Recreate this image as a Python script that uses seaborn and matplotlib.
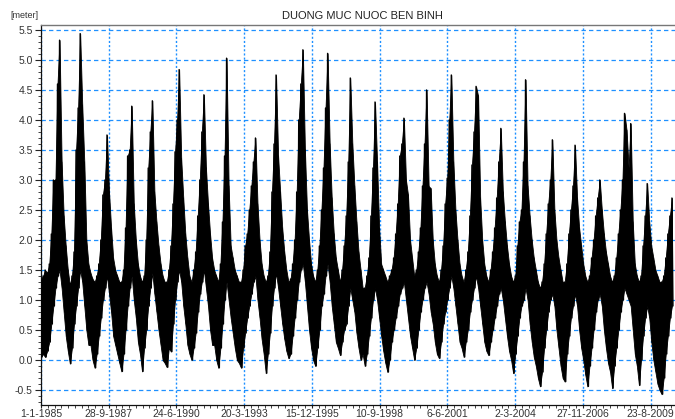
import numpy as np
import pandas as pd
import matplotlib
matplotlib.use("Agg")
import matplotlib.pyplot as plt
import seaborn as sns
from matplotlib.ticker import MultipleLocator, FixedLocator, FixedFormatter

sns.set_theme(style="white")
plt.rcParams["font.family"] = ["Liberation Sans", "DejaVu Sans"]

title = "DUONG MUC NUOC BEN BINH"
unit_label = "[meter]"
x_tick_days = [0, 1000, 2000, 3000, 4000, 5000, 6000, 7000, 8000, 9000]
x_tick_labels = ["1-1-1985", "28-9-1987", "24-6-1990", "20-3-1993", "15-12-1995",
                 "10-9-1998", "6-6-2001", "2-3-2004", "27-11-2006", "23-8-2009"]
y_ticks = [-0.5, 0.0, 0.5, 1.0, 1.5, 2.0, 2.5, 3.0, 3.5, 4.0, 4.5, 5.0, 5.5]

# monthly high-water envelope (m), Jan 1985 .. Jul 2010, one row per year
upper = [
    1.35, 1.40, 1.50, 1.45, 1.60, 2.10, 3.00, 3.00, 4.60, 5.33, 3.30, 2.40,  # 1985
    1.90, 1.50, 1.25, 1.40, 1.80, 3.50, 4.20, 5.44, 4.25, 3.30, 2.00, 1.60,  # 1986
    1.45, 1.35, 1.30, 1.40, 1.60, 2.00, 2.75, 3.00, 3.75, 2.80, 2.20, 1.70,  # 1987
    1.50, 1.40, 1.30, 1.30, 1.50, 2.20, 3.40, 3.50, 4.23, 2.60, 2.00, 1.60,  # 1988
    1.40, 1.30, 1.40, 2.00, 3.20, 3.80, 4.32, 2.80, 2.30, 1.90, 1.60, 1.40,  # 1989
    1.30, 1.30, 1.50, 1.90, 2.60, 3.47, 4.00, 4.84, 3.36, 2.70, 2.10, 1.70,  # 1990
    1.40, 1.30, 1.50, 1.80, 2.40, 3.00, 3.80, 4.42, 3.20, 2.60, 2.10, 1.70,  # 1991
    1.50, 1.40, 1.30, 1.60, 2.30, 3.40, 5.03, 2.90, 1.90, 1.70, 1.50, 1.40,  # 1992
    1.30, 1.30, 1.50, 1.90, 2.10, 2.50, 2.90, 3.30, 3.70, 2.60, 2.00, 1.60,  # 1993
    1.40, 1.30, 1.40, 1.80, 2.80, 3.60, 4.75, 3.40, 2.80, 2.20, 1.80, 1.50,  # 1994
    1.30, 1.35, 1.60, 2.00, 2.80, 4.00, 4.60, 5.17, 3.50, 2.50, 2.00, 1.60,  # 1995
    1.40, 1.30, 1.50, 1.90, 2.50, 3.20, 4.20, 5.11, 3.60, 2.70, 2.10, 1.70,  # 1996
    1.50, 1.30, 1.50, 1.90, 2.40, 3.30, 4.70, 3.60, 2.90, 2.30, 1.80, 1.50,  # 1997
    1.20, 1.20, 1.40, 1.70, 2.40, 3.20, 4.30, 3.30, 2.20, 1.60, 1.50, 1.40,  # 1998
    1.30, 1.40, 1.50, 1.70, 2.10, 2.60, 3.40, 3.60, 4.03, 3.00, 2.75, 2.00,  # 1999
    1.70, 1.40, 1.50, 1.80, 2.20, 2.90, 3.60, 4.50, 2.90, 2.86, 2.00, 1.60,  # 2000
    1.40, 1.30, 1.50, 1.90, 2.60, 3.03, 4.00, 4.75, 3.30, 2.50, 2.00, 1.60,  # 2001
    1.40, 1.30, 1.50, 1.80, 2.40, 3.25, 3.80, 4.56, 4.40, 2.70, 2.00, 1.60,  # 2002
    1.40, 1.30, 1.50, 1.80, 2.20, 2.70, 3.30, 3.86, 2.80, 2.30, 1.90, 1.60,  # 2003
    1.40, 1.30, 1.40, 1.90, 2.30, 2.50, 3.30, 4.67, 2.90, 2.40, 2.00, 1.70,  # 2004
    1.50, 1.30, 1.20, 1.30, 1.60, 2.10, 2.60, 3.00, 3.67, 2.50, 2.00, 1.70,  # 2005
    1.50, 1.30, 1.30, 1.60, 2.10, 2.50, 2.90, 3.58, 2.70, 2.20, 1.90, 1.60,  # 2006
    1.40, 1.30, 1.40, 1.70, 2.00, 2.40, 2.70, 3.00, 2.50, 2.10, 1.80, 1.60,  # 2007
    1.40, 1.30, 1.40, 1.70, 2.10, 2.50, 3.00, 4.11, 3.83, 3.20, 3.94, 2.30,  # 2008
    1.60, 1.40, 1.30, 1.40, 1.90, 2.40, 2.94, 2.30, 1.90, 1.70, 1.50, 1.40,  # 2009
    1.30, 1.30, 1.40, 1.70, 2.10, 2.40, 2.70,                                # 2010
]

# monthly low-water envelope (m), same months
lower = [
    0.05, 0.10, 0.05, 0.15, 0.30, 0.60, 0.90, 1.20, 1.40, 1.50, 1.20, 0.80,  # 1985
    0.40, 0.15, -0.06, 0.20, 0.60, 0.90, 1.20, 1.50, 1.30, 0.90, 0.50, 0.25,  # 1986
    0.25, 0.00, -0.13, 0.10, 0.40, 0.70, 1.00, 1.20, 1.40, 1.10, 0.80, 0.40,  # 1987
    0.25, 0.10, -0.05, -0.19, 0.10, 0.50, 0.90, 1.20, 1.40, 1.00, 0.70, 0.30,  # 1988
    0.10, -0.19, 0.20, 0.50, 0.90, 1.20, 1.45, 1.10, 0.80, 0.50, 0.25, 0.00,  # 1989
    -0.05, -0.12, 0.20, 0.14, 0.60, 1.00, 1.30, 1.50, 1.30, 0.90, 0.60, 0.25,  # 1990
    0.10, 0.00, 0.20, 0.45, 0.80, 1.10, 1.30, 1.50, 1.20, 0.90, 0.50, 0.25,  # 1991
    0.25, 0.00, -0.13, 0.20, 0.60, 1.00, 1.30, 1.00, 0.70, 0.45, 0.20, 0.00,  # 1992
    -0.05, -0.13, 0.20, 0.45, 0.70, 0.90, 1.10, 1.30, 1.40, 1.00, 0.70, 0.35,  # 1993
    0.10, -0.22, 0.10, 0.45, 0.90, 1.20, 1.45, 1.20, 0.90, 0.60, 0.35, 0.15,  # 1994
    0.03, 0.10, 0.40, 0.70, 1.00, 1.30, 1.50, 1.60, 1.30, 0.90, 0.50, 0.20,  # 1995
    0.00, -0.10, 0.20, 0.50, 0.90, 1.10, 1.40, 1.60, 1.30, 0.90, 0.60, 0.30,  # 1996
    0.20, 0.08, 0.30, 0.50, 0.60, 0.90, 1.20, 1.00, 0.80, 0.45, 0.20, 0.00,  # 1997
    0.10, -0.10, 0.10, 0.40, 0.70, 1.00, 1.20, 1.00, 0.70, 0.40, 0.15, -0.05,  # 1998
    -0.20, 0.00, 0.30, 0.50, 0.70, 0.90, 1.10, 1.20, 1.30, 1.00, 0.70, 0.40,  # 1999
    0.20, 0.00, 0.20, 0.50, 0.80, 1.00, 1.20, 1.30, 1.10, 0.80, 0.60, 0.30,  # 2000
    0.10, 0.03, 0.30, 0.60, 0.80, 1.00, 1.20, 1.40, 1.20, 0.90, 0.60, 0.30,  # 2001
    0.20, 0.05, 0.30, 0.50, 0.80, 1.00, 1.20, 1.40, 1.20, 0.90, 0.60, 0.30,  # 2002
    0.15, 0.08, 0.30, 0.50, 0.70, 0.90, 1.10, 1.20, 1.00, 0.70, 0.40, 0.15,  # 2003
    0.00, -0.22, 0.10, 0.40, 0.70, 0.90, 1.00, 1.20, 1.00, 0.60, 0.30, 0.05,  # 2004
    -0.10, -0.30, -0.44, -0.20, 0.20, 0.50, 0.80, 1.00, 1.10, 0.90, 0.50, 0.20,  # 2005
    -0.10, -0.30, -0.36, 0.10, 0.40, 0.70, 0.90, 1.10, 0.90, 0.50, 0.20, 0.00,  # 2006
    -0.25, -0.44, -0.10, 0.20, 0.50, 0.80, 1.00, 1.10, 0.90, 0.50, 0.20, -0.05,  # 2007
    -0.20, -0.47, -0.10, 0.20, 0.50, 0.80, 1.00, 1.20, 1.10, 1.00, 0.90, 0.50,  # 2008
    0.10, -0.10, -0.42, 0.00, 0.40, 0.70, 0.90, 0.70, 0.30, 0.00, -0.20, -0.40,  # 2009
    -0.50, -0.57, -0.30, 0.10, 0.40, 0.70, 0.90,                               # 2010
]

# build the tidal trace: a high and a low reading in each month
month_len = 30.44
n = min(len(upper), len(lower))
month_day = [m * month_len for m in range(n)]
days, level = [], []
for m in range(n):
    days.append(month_day[m])
    level.append(upper[m])
    days.append(month_day[m] + month_len / 2)
    level.append(lower[m])
df = pd.DataFrame({"day": days, "level": level})
env = pd.DataFrame({"day": month_day, "upper": upper[:n], "lower": lower[:n]})

fig = plt.figure(figsize=(6.75, 4.19), dpi=100)
ax = fig.add_axes([41 / 675, 14 / 419, 634 / 675, 380 / 419])

# solid band between the monthly high and low readings
ax.fill_between(env["day"], env["lower"], env["upper"], color="black",
                linewidth=0.6, edgecolor="black", zorder=2)
sns.lineplot(data=df, x="day", y="level", color="black", linewidth=1.0,
             estimator=None, sort=False, ax=ax, zorder=3)

ax.set_xlim(0, 9360)
ax.set_ylim(-0.75, 5.583)

ax.xaxis.set_major_locator(FixedLocator(x_tick_days))
ax.xaxis.set_major_formatter(FixedFormatter(x_tick_labels))
ax.xaxis.set_minor_locator(MultipleLocator(100))
ax.yaxis.set_major_locator(FixedLocator(y_ticks))
ax.set_yticklabels([f"{v:.1f}" for v in y_ticks])
ax.yaxis.set_minor_locator(MultipleLocator(0.1))

ax.tick_params(axis="y", which="major", direction="out", length=4, width=0.8,
               labelsize=7.5, labelcolor="#333333", color="#222222", pad=2, left=True)
ax.tick_params(axis="y", which="minor", direction="out", length=2, width=0.6,
               color="#222222", left=True)
ax.tick_params(axis="x", which="major", direction="out", length=2.5, width=0.8,
               labelsize=7.5, labelcolor="#333333", color="#222222", pad=0.5, bottom=True)
ax.tick_params(axis="x", which="minor", direction="out", length=2, width=0.6,
               color="#222222", bottom=True)

ax.set_xlabel("")
ax.set_ylabel("")

ax.grid(False)
for yv in y_ticks:
    ax.axhline(yv, color="#1E90FF", linestyle=(0, (3.5, 2.5)), linewidth=0.9, zorder=0)
for xv in x_tick_days:
    ax.axvline(xv, color="#1E90FF", linestyle=(0, (1.5, 1.5)), linewidth=1.0, zorder=0)

for side in ["left", "bottom"]:
    ax.spines[side].set_color("#111111")
    ax.spines[side].set_linewidth(0.9)
ax.spines["top"].set_color("#777777")
ax.spines["top"].set_linewidth(1.0)
ax.spines["right"].set_visible(False)

fig.text(362 / 675, 1 - 16 / 419, title, ha="center", va="center",
         fontsize=8, color="#222222")
fig.text(10 / 675, 1 - 15 / 419, unit_label, ha="left", va="center",
         fontsize=6.5, color="#333333")

fig.savefig("out.png", dpi=100)
